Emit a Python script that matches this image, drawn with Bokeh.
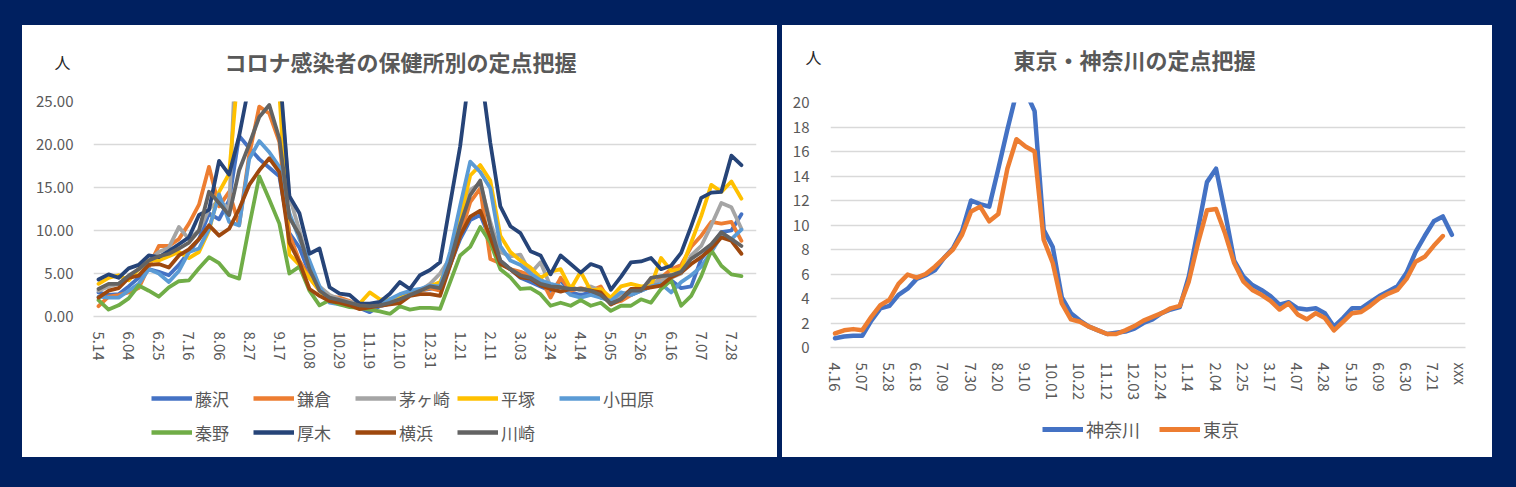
from bokeh.plotting import figure
from bokeh.models import Range1d, FixedTicker, NumeralTickFormatter, Legend, LegendItem, Label
from bokeh.layouts import row, column
from bokeh.embed import file_html
from bokeh.resources import INLINE

# ---------------- Left chart data (weekly, from 5.14) ----------------
left_tick_labels = ["5.14", "6.04", "6.25", "7.16", "8.06", "8.27", "9.17", "10.08", "10.29",
                    "11.19", "12.10", "12.31", "1.21", "2.11", "3.03", "3.24", "4.14", "5.05",
                    "5.26", "6.16", "7.07", "7.28"]
left_names = ["藤沢", "鎌倉", "茅ヶ崎", "平塚", "小田原", "秦野", "厚木", "横浜", "川崎"]
left_colors = ["#4472C4", "#ED7D31", "#A5A5A5", "#FFC000", "#5B9BD5", "#70AD47", "#264478", "#9E480E", "#636363"]

fujisawa = [2.8, 2.5, 2.6, 3.5, 4.5, 5.5, 5.2, 4.8, 6.0, 7.5,
            9.0, 12.0, 11.3, 13.5, 21.0, 19.6, 18.3, 17.3, 16.3, 9.7,
            8.0, 5.0, 3.2, 2.0, 1.6, 1.3, 1.0, 0.5, 1.2, 1.5,
            2.2, 2.8, 3.0, 3.2, 3.5, 6.0, 9.0, 11.2, 11.8, 9.0,
            6.5, 5.5, 4.5, 4.0, 3.5, 3.0, 4.2, 2.8, 2.5, 2.8,
            2.2, 2.0, 2.5, 2.5, 3.0, 3.5, 4.5, 4.2, 3.3, 3.5,
            6.7, 8.2, 9.8, 10.0, 11.9]
kamakura = [1.2, 2.3, 2.5, 2.8, 3.3, 5.8, 8.2, 8.2, 9.0, 10.8,
            13.0, 17.4, 12.8, 14.5, 10.6, 18.8, 24.4, 23.6, 20.3, 9.5,
            6.5, 4.5, 3.0, 2.3, 2.2, 1.8, 1.2, 1.0, 1.3, 1.5,
            1.8, 2.5, 3.0, 3.3, 3.0, 6.0, 9.4, 13.3, 14.9, 6.7,
            6.2, 5.5, 5.2, 4.8, 4.5, 2.2, 4.5, 3.0, 3.3, 3.0,
            3.5, 1.5, 1.8, 2.5, 3.2, 3.5, 4.5, 5.5, 6.0, 8.1,
            9.4, 11.0, 10.8, 11.0, 8.8]
chigasaki = [3.0, 3.5, 3.8, 4.5, 5.5, 6.5, 7.5, 8.0, 10.4, 9.0,
             10.0, 12.5, 13.5, 12.5, 40.0, 38.0, 35.0, 32.0, 28.0, 14.0,
             10.0, 5.5, 3.5, 2.5, 2.0, 1.7, 1.5, 1.3, 1.2, 1.6,
             2.0, 2.5, 3.0, 3.8, 5.0, 6.8, 11.0, 14.7, 15.5, 11.0,
             7.5, 7.0, 7.2, 5.0, 6.3, 3.5, 3.0, 3.5, 3.0, 3.5,
             3.0, 2.0, 2.5, 3.0, 3.2, 4.0, 4.2, 4.5, 5.0, 7.1,
             8.2, 10.6, 13.2, 12.7, 10.2]
hiratsuka = [3.8, 4.5, 4.8, 4.2, 5.5, 6.5, 6.5, 7.0, 7.5, 6.8,
             7.5, 10.0, 14.5, 16.6, 30.0, 30.0, 30.0, 30.0, 26.0, 7.2,
             6.0, 4.5, 3.0, 2.0, 1.5, 1.2, 1.5, 2.8, 2.0, 2.0,
             2.2, 2.5, 3.0, 3.5, 4.0, 6.5, 11.4, 16.4, 17.6, 15.8,
             9.4, 7.5, 6.5, 5.7, 4.5, 5.2, 5.5, 3.2, 5.2, 3.0,
             3.2, 2.2, 3.5, 3.8, 3.5, 3.6, 6.8, 5.3, 5.5, 8.6,
             11.7, 15.3, 14.5, 15.7, 13.7]
odawara = [2.3, 2.2, 2.2, 3.0, 3.8, 5.5, 5.0, 4.0, 5.3, 7.5,
           7.9, 10.2, 14.2, 11.0, 10.6, 18.3, 20.4, 19.1, 17.4, 12.0,
           9.0, 6.5, 3.5, 1.6, 1.4, 1.3, 1.2, 1.0, 1.3, 2.0,
           2.6, 3.0, 3.2, 3.6, 3.5, 7.5, 12.9, 18.0, 16.8, 14.9,
           8.2, 6.5, 6.0, 5.0, 4.2, 3.8, 3.5, 2.5, 2.2, 2.5,
           2.2, 1.8, 2.8, 2.5, 3.0, 3.5, 3.8, 2.8, 4.0, 4.8,
           5.8, 7.5, 9.4, 9.0, 10.1]
hadano = [1.9, 0.8, 1.3, 2.1, 3.6, 3.0, 2.3, 3.4, 4.1, 4.2,
          5.6, 6.9, 6.2, 4.8, 4.4, 10.5, 16.3, 13.6, 10.8, 5.0,
          5.8, 3.0, 1.3, 1.9, 1.4, 1.1, 1.0, 0.8, 0.6, 0.3,
          1.2, 0.8, 1.0, 1.0, 0.9, 4.0, 7.1, 8.1, 10.4, 8.6,
          5.5, 4.55, 3.2, 3.3, 2.6, 1.25, 1.6, 1.25, 1.9, 1.25,
          1.6, 0.65, 1.25, 1.25, 2.0, 1.6, 3.2, 4.2, 1.25, 2.4,
          4.7, 7.7, 5.9, 4.9, 4.7]
atsugi = [4.3, 4.9, 4.5, 5.6, 6.0, 7.1, 6.9, 7.6, 8.4, 9.2,
          11.8, 12.4, 18.1, 16.5, 21.0, 27.0, 29.0, 29.0, 29.0, 14.0,
          12.0, 7.3, 7.9, 3.4, 2.65, 2.5, 1.5, 1.5, 1.7, 2.65,
          4.0, 3.2, 4.8, 5.4, 6.3, 13.1, 19.8, 29.0, 29.0, 20.2,
          12.8, 10.5, 9.7, 7.6, 7.1, 4.9, 7.1, 6.1, 5.1, 6.1,
          5.7, 3.1, 4.6, 6.3, 6.4, 6.8, 5.5, 5.9, 7.4, 10.5,
          13.8, 14.4, 14.5, 18.7, 17.6]
yokohama = [2.2, 3.0, 3.3, 4.5, 4.75, 6.0, 6.1, 5.7, 7.1, 7.8,
            9.0, 10.6, 9.4, 10.2, 12.5, 15.3, 17.0, 18.4, 16.8, 8.6,
            6.3, 3.2, 2.4, 1.8, 1.6, 1.3, 0.85, 1.05, 1.25, 1.4,
            1.55, 2.4, 2.6, 2.6, 2.4, 5.9, 9.4, 11.6, 12.3, 9.2,
            6.1, 5.5, 4.55, 4.4, 3.6, 3.2, 2.9, 3.2, 3.2, 3.0,
            2.8, 1.4, 2.0, 3.2, 3.2, 3.4, 3.6, 4.55, 5.1, 6.1,
            6.9, 7.9, 9.2, 8.8, 7.3]
kawasaki = [3.2, 3.8, 3.8, 4.75, 5.5, 6.5, 7.0, 7.3, 7.9, 8.6,
            10.0, 14.5, 13.2, 11.8, 17.0, 20.0, 23.2, 24.6, 20.7, 11.5,
            9.5, 5.5, 3.0, 2.2, 1.9, 1.6, 1.3, 1.2, 1.3, 1.6,
            2.0, 2.5, 3.0, 3.5, 3.3, 6.3, 10.6, 14.1, 15.8, 10.5,
            6.5, 5.5, 4.8, 4.5, 3.8, 3.5, 3.4, 3.2, 3.2, 3.0,
            2.5, 1.5, 2.0, 3.0, 3.0, 4.5, 4.7, 4.8, 5.2, 6.7,
            7.5, 8.4, 9.8, 9.0, 8.2]
left_series = [fujisawa, kamakura, chigasaki, hiratsuka, odawara, hadano, atsugi, yokohama, kawasaki]
left_categories = 66

# ---------------- Right chart data (weekly, from 4.16) ----------------
right_tick_labels = ["4.16", "5.07", "5.28", "6.18", "7.09", "7.30", "8.20", "9.10", "10.01", "10.22",
                     "11.12", "12.03", "12.24", "1.14", "2.04", "2.25", "3.17", "4.07", "4.28", "5.19",
                     "6.09", "6.30", "7.21", "xxx"]
right_names = ["神奈川", "東京"]
right_colors = ["#4472C4", "#ED7D31"]
kanagawa = [0.75, 0.9, 0.95, 0.95, 2.2, 3.2, 3.4, 4.3, 4.8, 5.6,
            5.9, 6.3, 7.3, 8.1, 9.5, 12.0, 11.7, 11.5, 14.6, 17.8,
            20.8, 20.9, 19.3, 9.6, 8.2, 4.1, 2.8, 2.2, 1.7, 1.4,
            1.1, 1.2, 1.3, 1.55, 2.0, 2.3, 2.8, 3.1, 3.3, 5.8,
            9.6, 13.5, 14.6, 11.0, 7.1, 5.8, 5.1, 4.7, 4.2, 3.5,
            3.7, 3.2, 3.1, 3.2, 2.8, 1.7, 2.4, 3.2, 3.2, 3.7,
            4.2, 4.6, 5.0, 6.1, 7.8, 9.1, 10.3, 10.7, 9.2]
tokyo = [1.15, 1.4, 1.5, 1.4, 2.5, 3.45, 3.9, 5.2, 5.95, 5.7,
         6.0, 6.6, 7.3, 8.0, 9.2, 11.1, 11.5, 10.3, 10.9, 14.6,
         17.0, 16.4, 16.0, 8.8, 6.9, 3.6, 2.3, 2.1, 1.7, 1.4,
         1.1, 1.1, 1.4, 1.75, 2.2, 2.5, 2.8, 3.2, 3.4, 5.4,
         8.5, 11.2, 11.3, 9.3, 6.9, 5.4, 4.7, 4.3, 3.8, 3.1,
         3.6, 2.7, 2.3, 2.8, 2.4, 1.4, 2.1, 2.8, 2.9, 3.4,
         4.0, 4.4, 4.7, 5.6, 7.0, 7.4, 8.3, 9.1]
right_series = [kanagawa, tokyo]
right_categories = 70

FONT = "Noto Sans CJK JP"
TXT = "#595959"
NAVY = "#002060"


def blank_fig(width, height, yr=None):
    f = figure(width=width, height=height, x_range=Range1d(0, width),
               y_range=yr if yr is not None else Range1d(0, height),
               x_axis_type=None, y_axis_type=None, output_backend="svg", toolbar_location=None,
               min_border=0, min_border_left=0, min_border_right=0, min_border_top=0,
               min_border_bottom=0)
    f.grid.visible = False
    f.outline_line_color = None
    f.background_fill_color = "white"
    f.border_fill_color = "white"
    f.frame_align = False
    return f


def header(width, height, title, tx, ty, px, py):
    h = blank_fig(width, height)
    h.add_layout(Label(x=tx, y=ty, text=title, text_font=FONT, text_font_size="22px",
                       text_font_style="bold", text_color=TXT, text_align="center",
                       text_baseline="middle"))
    h.add_layout(Label(x=px, y=py, text="人", text_font=FONT, text_font_size="16px",
                       text_color="#262626", text_align="center", text_baseline="middle"))
    return h


def main_fig(width, height, mbl, mbr, mbt, mbb, ncat, ymax, yticks, labels):
    p = figure(width=width, height=height, x_range=Range1d(-0.5, ncat - 0.5),
               y_range=Range1d(0, ymax), output_backend="svg", toolbar_location=None,
               min_border_left=mbl, min_border_right=mbr, min_border_top=mbt,
               min_border_bottom=mbb)
    p.frame_align = False
    p.background_fill_color = "white"
    p.border_fill_color = "white"
    p.outline_line_color = None
    p.xgrid.visible = False
    yt = FixedTicker(ticks=yticks)
    p.yaxis.ticker = yt
    p.ygrid.ticker = yt
    p.ygrid.grid_line_color = "#d9d9d9"
    p.ygrid.grid_line_width = 1.5
    p.yaxis.axis_line_color = None
    p.yaxis.major_tick_line_color = None
    p.yaxis.minor_tick_line_color = None
    p.yaxis.major_label_text_font = FONT
    p.yaxis.major_label_text_color = TXT
    p.yaxis.major_label_text_font_size = "15px"
    xt_pos = list(range(0, 3 * len(labels), 3))
    p.xaxis.ticker = FixedTicker(ticks=xt_pos)
    p.xaxis.major_label_overrides = {t: lab for t, lab in zip(xt_pos, labels)}
    p.xaxis.major_label_orientation = "vertical"
    p.xaxis.axis_line_color = "#d9d9d9"
    p.xaxis.axis_line_width = 1.5
    p.xaxis.major_tick_line_color = None
    p.xaxis.minor_tick_line_color = None
    p.xaxis.major_label_text_font = FONT
    p.xaxis.major_label_text_color = TXT
    p.xaxis.major_label_text_font_size = "15px"
    p.xaxis.major_label_standoff = 9
    return p


def legend_fig(width, height, names, colors, series, lw, loc, ncols, label_width, spacing, fsize):
    # y range placed far away from the data so the proxy lines stay out of view;
    # only their legend swatches are shown
    lf = blank_fig(width, height, yr=Range1d(-2000, -2000 + height))
    items = []
    for name, col, ys in zip(names, colors, series):
        r = lf.line(x=list(range(len(ys))), y=ys, line_color=col, line_width=lw, line_cap="butt")
        items.append(LegendItem(label=name, renderers=[r]))
    leg = Legend(items=items, location=loc, orientation="horizontal", ncols=ncols,
                 glyph_width=41, glyph_height=32, label_width=label_width, label_height=32,
                 label_standoff=3, spacing=spacing, padding=0, margin=0,
                 border_line_color=None, background_fill_alpha=0,
                 label_text_font=FONT, label_text_font_size=fsize, label_text_color=TXT)
    lf.add_layout(leg)
    return lf


# ---------------- Left panel ----------------
hl = header(755, 66, "コロナ感染者の保健所別の定点把握", 378, 31, 40, 30)
pl = main_fig(755, 285, 71, 21, 10, 60, left_categories, 25, [0, 5, 10, 15, 20, 25], left_tick_labels)
pl.yaxis.formatter = NumeralTickFormatter(format="0.00")
pl.yaxis.major_label_standoff = 14
for name, col, ys in zip(left_names, left_colors, left_series):
    pl.line(list(range(len(ys))), ys, line_color=col, line_width=3.8,
            line_join="round", line_cap="round")
ll = legend_fig(755, 81, left_names, left_colors, left_series, 4.5, (129, 9), 5, 56, 2, "17px")
left_panel = column(hl, pl, ll, margin=(25, 0, 0, 22), spacing=0,
                    styles={"background-color": "white"})

# ---------------- Right panel ----------------
hr = header(710, 66, "東京・神奈川の定点把握", 352, 33, 31, 35)
pr = main_fig(710, 311, 48, 27, 11, 55, right_categories, 20, list(range(0, 21, 2)), right_tick_labels)
pr.yaxis.major_label_standoff = 15
for name, col, ys in zip(right_names, right_colors, right_series):
    pr.line(list(range(len(ys))), ys, line_color=col, line_width=4.5,
            line_join="round", line_cap="round")
lr = legend_fig(710, 55, right_names, right_colors, right_series, 5, (260, 12), 2, 72, 1, "18px")
right_panel = column(hr, pr, lr, margin=(25, 24, 30, 5), spacing=0,
                     styles={"background-color": "white"})

layout = row(left_panel, right_panel, styles={"background-color": NAVY}, spacing=0)
open("out.html", "w").write(file_html(layout, INLINE).replace("</head>", "<style>body{background:#002060;}</style></head>", 1))
